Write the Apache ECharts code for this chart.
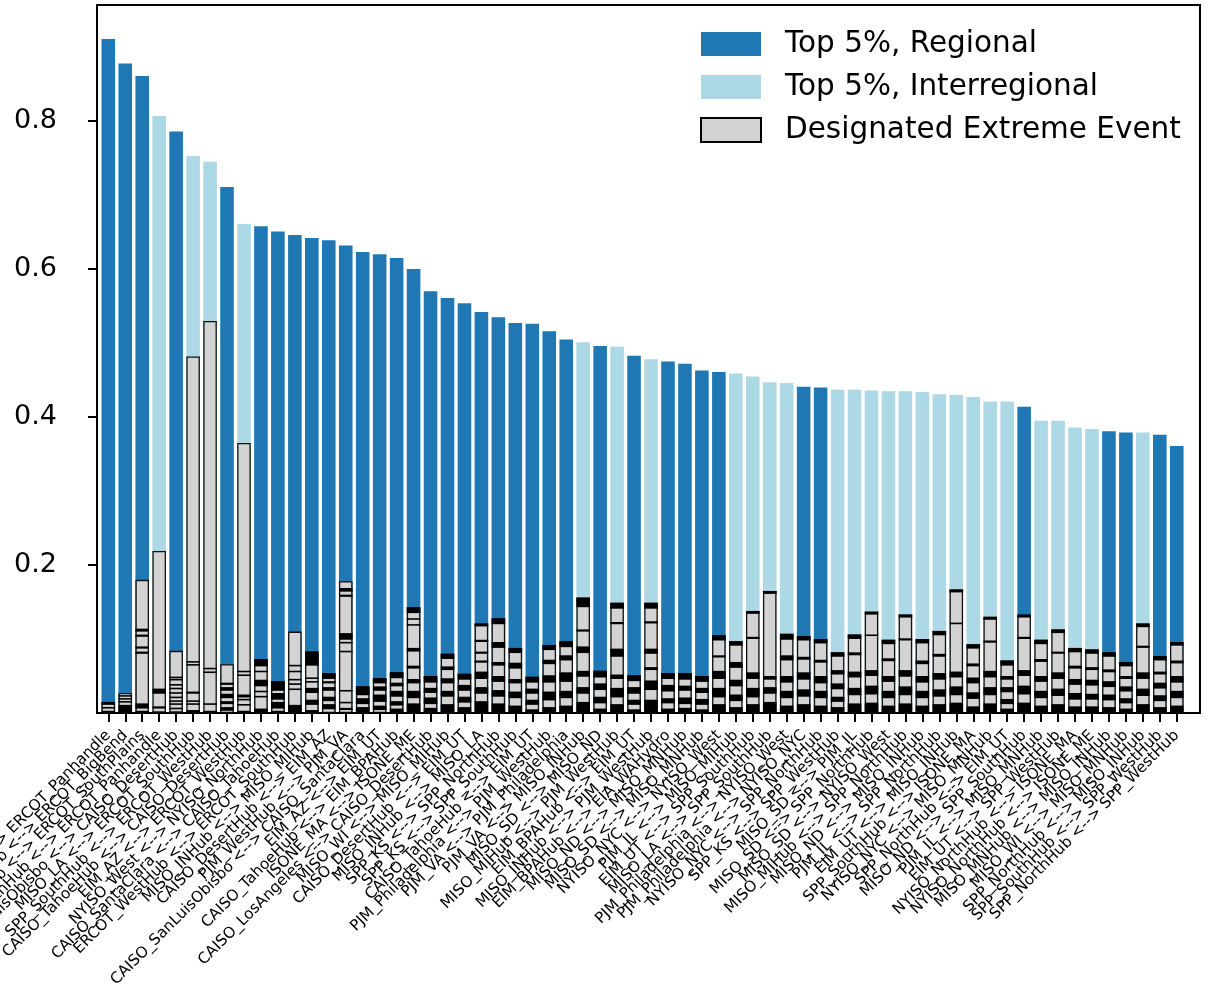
<!DOCTYPE html>
<html>
<head>
<meta charset="utf-8">
<script src="https://cdn.jsdelivr.net/npm/echarts@6/dist/echarts.min.js"></script>
<style>
html, body { margin: 0; padding: 0; background: #fff; }
#chart { width: 1205px; height: 983px; }
</style>
</head>
<body>
<div id="chart"></div>
<script>
// Node pairs, ordered by share of top-5% hours
const pairs = [
  'ERCOT_WestHub <--> ERCOT_Panhandle',
  'ERCOT_SouthHub <--> ERCOT_BigBend',
  'ERCOT_NorthHub <--> ERCOT_SouthPlains',
  'SPP_NorthHub <--> ERCOT_Panhandle',
  'CAISO_SanLuisObisbo <--> CAISO_DesertHub',
  'MISO_LA <--> ERCOT_SouthHub',
  'SPP_SouthHub <--> ERCOT_WestHub',
  'CAISO_TahoeHub <--> CAISO_DesertHub',
  'EIM_AZ <--> ERCOT_WestHub',
  'NYISO_West <--> NYISO_NorthHub',
  'CAISO_SantaClara <--> CAISO_TahoeHub',
  'ERCOT_WestHub <--> ERCOT_SouthHub',
  'MISO_INHub <--> MISO_MIHub',
  'CAISO_DesertHub <--> EIM_AZ',
  'PJM_WestHub <--> PJM_VA',
  'CAISO_SanLuisObisbo <--> CAISO_SantaClara',
  'EIM_AZ <--> EIM_UT',
  'CAISO_TahoeHub <--> EIM_BPAHub',
  'ISONE_MA <--> ISONE_ME',
  'CAISO_LosAngeles <--> CAISO_DesertHub',
  'MISO_WI <--> MISO_MIHub',
  'CAISO_DesertHub <--> EIM_UT',
  'MISO_INHub <--> MISO_LA',
  'SPP_KS <--> SPP_NorthHub',
  'SPP_KS <--> SPP_SouthHub',
  'CAISO_TahoeHub <--> EIM_UT',
  'PJM_Philadelphia <--> PJM_WestHub',
  'PJM_VA <--> PJM_Philadelphia',
  'PJM_VA <--> MISO_INHub',
  'MISO_SD <--> MISO_ND',
  'MISO_MIHub <--> PJM_WestHub',
  'EIM_BPAHub <--> EIM_UT',
  'MISO_INHub <--> PJM_WestHub',
  'EIM_BPAHub <--> EIA_WAHydro',
  'MISO_ND <--> MISO_MNHub',
  'MISO_SD <--> MISO_MNHub',
  'NYISO_NYC <--> NYISO_West',
  'PJM_IL <--> MISO_MIHub',
  'EIM_UT <--> SPP_SouthHub',
  'MISO_LA <--> SPP_SouthHub',
  'PJM_Philadelphia <--> NYISO_West',
  'PJM_Philadelphia <--> NYISO_NYC',
  'NYISO_NYC <--> SPP_NorthHub',
  'SPP_KS <--> SPP_WestHub',
  'MISO_SD <--> PJM_IL',
  'MISO_SD <--> SPP_NorthHub',
  'MISO_SD <--> NYISO_West',
  'MISO_MIHub <--> SPP_NorthHub',
  'MISO_ND <--> MISO_INHub',
  'PJM_IL <--> SPP_NorthHub',
  'EIM_UT <--> MISO_INHub',
  'SPP_SouthHub <--> ISONE_MA',
  'NYISO_NYC <--> MISO_MNHub',
  'SPP_NorthHub <--> EIM_UT',
  'MISO_ND <--> SPP_SouthHub',
  'PJM_IL <--> MISO_MNHub',
  'EIM_UT <--> SPP_WestHub',
  'NYISO_NorthHub <--> ISONE_MA',
  'NYISO_NorthHub <--> ISONE_ME',
  'MISO_MNHub <--> MISO_INHub',
  'MISO_WI <--> MISO_MNHub',
  'SPP_NorthHub <--> MISO_INHub',
  'SPP_SouthHub <--> SPP_WestHub',
  'SPP_NorthHub <--> SPP_WestHub'
];

// Share of top-5% hours for each pair
const topShare = [
  0.911, 0.878, 0.861, 0.807, 0.786, 0.753, 0.745, 0.711, 0.661, 0.658,
  0.651, 0.646, 0.642, 0.639, 0.632, 0.623, 0.620, 0.615, 0.600, 0.570,
  0.561, 0.554, 0.542, 0.535, 0.527, 0.526, 0.516, 0.505, 0.501, 0.496,
  0.495, 0.483, 0.478, 0.475, 0.472, 0.463, 0.461, 0.459, 0.455, 0.447,
  0.446, 0.441, 0.440, 0.437, 0.437, 0.436, 0.435, 0.435, 0.434, 0.431,
  0.430, 0.427, 0.421, 0.421, 0.414, 0.395, 0.395, 0.386, 0.384, 0.381,
  0.379, 0.379, 0.376, 0.361
];

// R = regional pair, I = interregional pair
const pairType = [
  'R','R','R','I','R','I','I','R','I','R',
  'R','R','R','R','R','R','R','R','R','R',
  'R','R','R','R','R','R','R','R','I','R',
  'I','R','I','R','R','R','R','I','I','I',
  'I','R','R','I','I','I','I','I','I','I',
  'I','I','I','I','R','I','I','I','I','R',
  'R','I','R','R'
];

// Share of designated extreme events for each pair
const eventShare = [
  0.015, 0.027, 0.180, 0.219, 0.084, 0.482, 0.530, 0.066, 0.365, 0.073,
  0.043, 0.110, 0.083, 0.054, 0.178, 0.036, 0.047, 0.055, 0.143, 0.050,
  0.080, 0.053, 0.121, 0.128, 0.088, 0.049, 0.092, 0.097, 0.156, 0.057,
  0.149, 0.051, 0.149, 0.054, 0.054, 0.050, 0.105, 0.097, 0.138, 0.165,
  0.107, 0.104, 0.100, 0.082, 0.106, 0.137, 0.099, 0.133, 0.100, 0.111,
  0.167, 0.093, 0.130, 0.071, 0.133, 0.099, 0.113, 0.088, 0.086, 0.082,
  0.069, 0.121, 0.077, 0.096
];

// Boundaries between individual events: [pair index, lower, upper]
const eventBands = [
  [0,0.011,0.015],[0,0.006,0.008],[0,0.0,0.003],
  [1,0.022,0.024],[1,0.018,0.019],[1,0.014,0.016],[1,0.0,0.011],
  [2,0.110,0.114],[2,0.103,0.106],[2,0.087,0.090],[2,0.080,0.083],[2,0.006,0.013],[2,0.0,0.003],
  [3,0.026,0.033],[3,0.006,0.009],[3,0.0,0.002],
  [4,0.047,0.049],[4,0.044,0.046],[4,0.037,0.039],[4,0.032,0.034],[4,0.026,0.028],[4,0.020,0.022],[4,0.015,0.017],[4,0.011,0.013],[4,0.005,0.007],[4,0.0,0.002],
  [5,0.068,0.070],[5,0.064,0.066],[5,0.026,0.029],[5,0.015,0.017],[5,0.011,0.013],[5,0.0,0.004],
  [6,0.059,0.061],[6,0.054,0.056],[6,0.011,0.012],[6,0.0,0.003],
  [7,0.038,0.041],[7,0.030,0.035],[7,0.020,0.026],[7,0.012,0.016],[7,0.003,0.008],
  [8,0.055,0.057],[8,0.050,0.052],[8,0.021,0.025],[8,0.017,0.019],[8,0.010,0.012],[8,0.0,0.003],
  [9,0.063,0.073],[9,0.055,0.057],[9,0.036,0.045],[9,0.028,0.030],[9,0.021,0.023],[9,0.0,0.006],
  [10,0.030,0.043],[10,0.018,0.027],[10,0.006,0.015],[10,0.0,0.003],
  [11,0.063,0.065],[11,0.055,0.057],[11,0.044,0.046],[11,0.038,0.040],[11,0.031,0.033],[11,0.0,0.011],
  [12,0.064,0.083],[12,0.046,0.048],[12,0.041,0.043],[12,0.027,0.034],[12,0.011,0.018],[12,0.0,0.004],
  [13,0.046,0.054],[13,0.040,0.043],[13,0.030,0.035],[13,0.016,0.022],[13,0.005,0.012],
  [14,0.164,0.169],[14,0.157,0.160],[14,0.099,0.108],[14,0.094,0.096],[14,0.082,0.084],[14,0.029,0.031],[14,0.013,0.015],[14,0.004,0.007],
  [15,0.024,0.036],[15,0.012,0.020],[15,0.0,0.008],
  [16,0.040,0.047],[16,0.030,0.036],[16,0.015,0.025],[16,0.004,0.010],
  [17,0.047,0.055],[17,0.036,0.041],[17,0.022,0.030],[17,0.010,0.016],[17,0.0,0.006],
  [18,0.135,0.143],[18,0.126,0.128],[18,0.118,0.120],[18,0.083,0.088],[18,0.060,0.064],[18,0.040,0.046],[18,0.020,0.030],[18,0.0,0.013],
  [19,0.041,0.050],[19,0.027,0.034],[19,0.012,0.021],[19,0.0,0.007],
  [20,0.073,0.080],[20,0.058,0.063],[20,0.040,0.047],[20,0.022,0.030],[20,0.0,0.012],
  [21,0.045,0.053],[21,0.030,0.038],[21,0.014,0.022],[21,0.0,0.008],
  [22,0.117,0.121],[22,0.096,0.099],[22,0.080,0.083],[22,0.068,0.071],[22,0.046,0.056],[22,0.026,0.035],[22,0.0,0.016],
  [23,0.120,0.128],[23,0.088,0.096],[23,0.064,0.069],[23,0.042,0.050],[23,0.022,0.031],[23,0.0,0.013],
  [24,0.081,0.088],[24,0.060,0.068],[24,0.040,0.046],[24,0.020,0.029],[24,0.0,0.010],
  [25,0.041,0.049],[25,0.026,0.033],[25,0.011,0.018],[25,0.0,0.005],
  [26,0.085,0.092],[26,0.066,0.072],[26,0.041,0.051],[26,0.017,0.029],[26,0.0,0.008],
  [27,0.089,0.097],[27,0.071,0.078],[27,0.042,0.055],[27,0.020,0.030],[27,0.0,0.010],
  [28,0.143,0.156],[28,0.110,0.113],[28,0.081,0.090],[28,0.049,0.057],[28,0.026,0.035],[28,0.0,0.015],
  [29,0.048,0.057],[29,0.031,0.040],[29,0.013,0.022],[29,0.0,0.006],
  [30,0.141,0.149],[30,0.120,0.123],[30,0.076,0.087],[30,0.046,0.052],[30,0.021,0.034],[30,0.0,0.012],
  [31,0.043,0.051],[31,0.026,0.035],[31,0.011,0.018],[31,0.0,0.005],
  [32,0.141,0.149],[32,0.121,0.124],[32,0.080,0.087],[32,0.058,0.062],[32,0.031,0.044],[32,0.0,0.018],
  [33,0.046,0.054],[33,0.029,0.038],[33,0.013,0.020],[33,0.0,0.006],
  [34,0.045,0.054],[34,0.030,0.037],[34,0.012,0.021],[34,0.0,0.007],
  [35,0.042,0.050],[35,0.027,0.034],[35,0.011,0.019],[35,0.0,0.005],
  [36,0.098,0.105],[36,0.075,0.078],[36,0.046,0.057],[36,0.021,0.034],[36,0.0,0.012],
  [37,0.091,0.097],[37,0.061,0.069],[37,0.036,0.045],[37,0.016,0.025],[37,0.0,0.008],
  [38,0.134,0.138],[38,0.100,0.103],[38,0.046,0.055],[38,0.021,0.034],[38,0.0,0.012],
  [39,0.161,0.165],[39,0.045,0.050],[39,0.026,0.035],[39,0.0,0.015],
  [40,0.099,0.107],[40,0.071,0.078],[40,0.041,0.050],[40,0.020,0.030],[40,0.0,0.010],
  [41,0.098,0.104],[41,0.072,0.076],[41,0.045,0.055],[41,0.022,0.032],[41,0.0,0.012],
  [42,0.094,0.100],[42,0.068,0.072],[42,0.040,0.050],[42,0.020,0.030],[42,0.0,0.010],
  [43,0.076,0.082],[43,0.052,0.058],[43,0.032,0.040],[43,0.015,0.022],[43,0.0,0.008],
  [44,0.100,0.106],[44,0.078,0.082],[44,0.048,0.056],[44,0.024,0.034],[44,0.0,0.013],
  [45,0.133,0.137],[45,0.104,0.106],[45,0.050,0.058],[45,0.025,0.037],[45,0.0,0.014],
  [46,0.093,0.099],[46,0.070,0.074],[46,0.042,0.050],[46,0.020,0.030],[46,0.0,0.010],
  [47,0.129,0.133],[47,0.098,0.101],[47,0.049,0.058],[47,0.024,0.036],[47,0.0,0.013],
  [48,0.094,0.100],[48,0.066,0.071],[48,0.041,0.050],[48,0.020,0.030],[48,0.0,0.010],
  [49,0.105,0.111],[49,0.076,0.080],[49,0.045,0.054],[49,0.022,0.032],[49,0.0,0.012],
  [50,0.163,0.167],[50,0.120,0.122],[50,0.048,0.056],[50,0.024,0.036],[50,0.0,0.014],
  [51,0.087,0.093],[51,0.063,0.067],[51,0.040,0.048],[51,0.019,0.028],[51,0.0,0.009],
  [52,0.126,0.130],[52,0.095,0.098],[52,0.048,0.057],[52,0.024,0.035],[52,0.0,0.013],
  [53,0.064,0.071],[53,0.045,0.050],[53,0.028,0.035],[53,0.012,0.019],[53,0.0,0.006],
  [54,0.129,0.133],[54,0.100,0.103],[54,0.050,0.058],[54,0.025,0.037],[54,0.0,0.014],
  [55,0.093,0.099],[55,0.069,0.073],[55,0.042,0.050],[55,0.020,0.030],[55,0.0,0.010],
  [56,0.108,0.113],[56,0.080,0.083],[56,0.046,0.055],[56,0.023,0.033],[56,0.0,0.012],
  [57,0.082,0.088],[57,0.060,0.064],[57,0.038,0.046],[57,0.018,0.027],[57,0.0,0.009],
  [58,0.080,0.086],[58,0.058,0.062],[58,0.037,0.045],[58,0.018,0.026],[58,0.0,0.009],
  [59,0.076,0.082],[59,0.055,0.059],[59,0.035,0.043],[59,0.017,0.025],[59,0.0,0.008],
  [60,0.063,0.069],[60,0.046,0.050],[60,0.029,0.036],[60,0.013,0.020],[60,0.0,0.006],
  [61,0.116,0.121],[61,0.088,0.091],[61,0.046,0.055],[61,0.023,0.033],[61,0.0,0.012],
  [62,0.071,0.077],[62,0.052,0.056],[62,0.033,0.041],[62,0.016,0.024],[62,0.0,0.008],
  [63,0.091,0.096],[63,0.067,0.071],[63,0.041,0.050],[63,0.020,0.030],[63,0.0,0.010]
];

const yTicks = [0.2, 0.4, 0.6, 0.8];
const seriesNames = ['Top 5%, Regional', 'Top 5%, Interregional', 'Designated Extreme Event'];

const FONT = 'DejaVu Sans';
const C_REG = '#1f77b4';
const C_INT = '#add8e6';
const C_EVT = '#d3d3d3';

// Axes box in pixels
const box = { left: 97, top: 5, right: 1200, bottom: 713 };
const step = 16.96;
const gridLeft = 108.3 - step / 2;

const regional = topShare.map((v, i) => pairType[i] === 'R' ? v : '-');
const interregional = topShare.map((v, i) => pairType[i] === 'I' ? v : '-');

const chart = echarts.init(document.getElementById('chart'), null, { renderer: 'canvas' });

const option = {
  animation: false,
  backgroundColor: '#fff',
  textStyle: { fontFamily: FONT },
  grid: {
    left: gridLeft,
    top: box.top,
    width: step * pairs.length,
    height: box.bottom - box.top,
    containLabel: false,
    outerBoundsMode: 'none'
  },
  xAxis: {
    type: 'category',
    data: pairs,
    boundaryGap: true,
    axisLine: { show: false },
    axisTick: { show: true, alignWithLabel: true, length: 9, lineStyle: { color: '#000', width: 2 } },
    axisLabel: { interval: 0, rotate: 45, fontFamily: FONT, fontSize: 15.3, color: '#000', margin: 20 },
    splitLine: { show: false }
  },
  yAxis: {
    type: 'value',
    min: 0,
    max: 0.957,
    offset: gridLeft - box.left,
    axisLine: { show: false },
    splitLine: { show: false },
    axisTick: { show: true, length: 9, customValues: yTicks, lineStyle: { color: '#000', width: 2 } },
    axisLabel: { customValues: yTicks, fontFamily: FONT, fontSize: 27, color: '#000', margin: 40,
      formatter: v => v.toFixed(1) }
  },
  legend: {
    orient: 'vertical',
    left: 700,
    top: 29,
    padding: 0,
    itemWidth: 60,
    itemHeight: 24,
    itemGap: 13,
    icon: 'rect',
    textStyle: { fontFamily: FONT, fontSize: 29.5, color: '#000', lineHeight: 30, padding: [0, 0, 0, 19] },
    data: [
      { name: seriesNames[0], itemStyle: { color: C_REG, borderWidth: 0 } },
      { name: seriesNames[1], itemStyle: { color: C_INT, borderWidth: 0 } },
      { name: seriesNames[2], itemStyle: { color: C_EVT, borderColor: '#000', borderWidth: 2 } }
    ]
  },
  graphic: [{
    type: 'rect',
    silent: true,
    z: 100,
    shape: { x: box.left, y: box.top, width: box.right - box.left, height: box.bottom - box.top },
    style: { fill: null, stroke: '#000', lineWidth: 2 }
  }],
  series: [
    {
      name: seriesNames[0], type: 'bar', data: regional,
      barWidth: '80%', barGap: '-100%',
      itemStyle: { color: C_REG }, z: 2
    },
    {
      name: seriesNames[1], type: 'bar', data: interregional,
      barWidth: '80%', barGap: '-100%',
      itemStyle: { color: C_INT }, z: 2
    },
    {
      name: seriesNames[2], type: 'bar', data: eventShare,
      barWidth: '80%', barGap: '-100%',
      itemStyle: { color: C_EVT, borderColor: '#111', borderWidth: 1.3 }, z: 3
    },
    {
      name: 'event bands', type: 'custom', data: eventBands, z: 4, silent: true,
      encode: { x: 0, y: [1, 2] },
      renderItem: (params, api) => {
        const i = api.value(0);
        const lo = api.coord([i, api.value(1)]);
        const hi = api.coord([i, api.value(2)]);
        const w = api.size([1, 0])[0] * 0.8;
        const h = Math.max(lo[1] - hi[1], 1.6);
        return {
          type: 'rect',
          shape: { x: lo[0] - w / 2, y: lo[1] - h, width: w, height: h },
          style: { fill: '#000' }
        };
      }
    }
  ]
};

chart.setOption(option);
</script>
</body>
</html>
